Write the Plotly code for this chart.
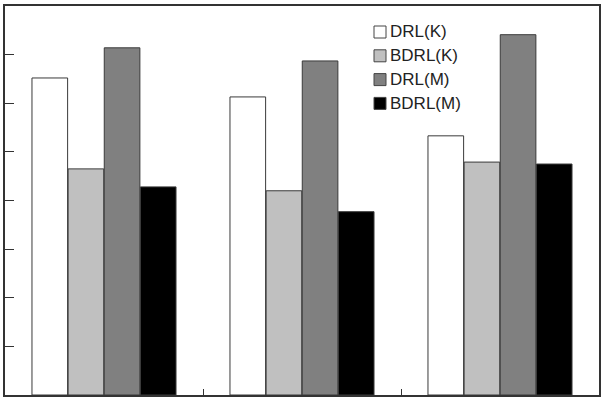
import plotly.graph_objects as go

groups = [0.5, 1.5, 2.5]
series_names = ["DRL(K)", "BDRL(K)", "DRL(M)", "BDRL(M)"]
drl_k = [6.52, 6.13, 5.33]
bdrl_k = [4.65, 4.20, 4.79]
drl_m = [7.14, 6.87, 7.41]
bdrl_m = [4.28, 3.77, 4.75]
colors = ["#ffffff", "#c0c0c0", "#808080", "#000000"]

fig = go.Figure()
for name, vals, col in zip(series_names, [drl_k, bdrl_k, drl_m, bdrl_m], colors):
    fig.add_trace(go.Bar(
        x=groups, y=vals, name=name, width=0.18,
        marker=dict(color=col, line=dict(color="#3a3a3a", width=1)),
        showlegend=False,
    ))

# manual legend (paper coordinates of the plot area)
W, H = 594.0, 389.0
x0 = (374 - 5) / W
x1 = (386 - 5) / W
xt = (388 - 5) / W
shapes, annotations = [], []
for i, (name, col) in enumerate(zip(series_names, colors)):
    cy = 32 + 23.8 * i
    yc = (395 - cy) / H
    shapes.append(dict(type="rect", xref="paper", yref="paper",
                       x0=x0, x1=x1, y0=yc - 6 / H, y1=yc + 6 / H,
                       fillcolor=col, line=dict(color="#444", width=1)))
    annotations.append(dict(text=name, xref="paper", yref="paper", x=xt, y=yc,
                            xanchor="left", yanchor="middle", showarrow=False,
                            font=dict(size=17, color="#222")))

fig.update_layout(
    width=608, height=399,
    margin=dict(l=5, r=9, t=6, b=4),
    paper_bgcolor="white", plot_bgcolor="white",
    barmode="group", bargap=0.27, bargroupgap=0,
    font=dict(family="Liberation Sans, Arial, sans-serif", size=14, color="#222"),
    shapes=shapes, annotations=annotations,
)
fig.update_xaxes(range=[0, 3], tickvals=[1, 2], showticklabels=False,
                 ticks="inside", ticklen=6, tickcolor="#333", tickwidth=1.2,
                 showline=True, linecolor="#333", linewidth=2, mirror=True,
                 showgrid=False, zeroline=False)
fig.update_yaxes(range=[0, 8], dtick=1, showticklabels=False,
                 ticks="inside", ticklen=9, tickcolor="#333", tickwidth=1.2,
                 showline=True, linecolor="#333", linewidth=2, mirror=True,
                 showgrid=False, zeroline=False)

fig.write_html("out.html")
